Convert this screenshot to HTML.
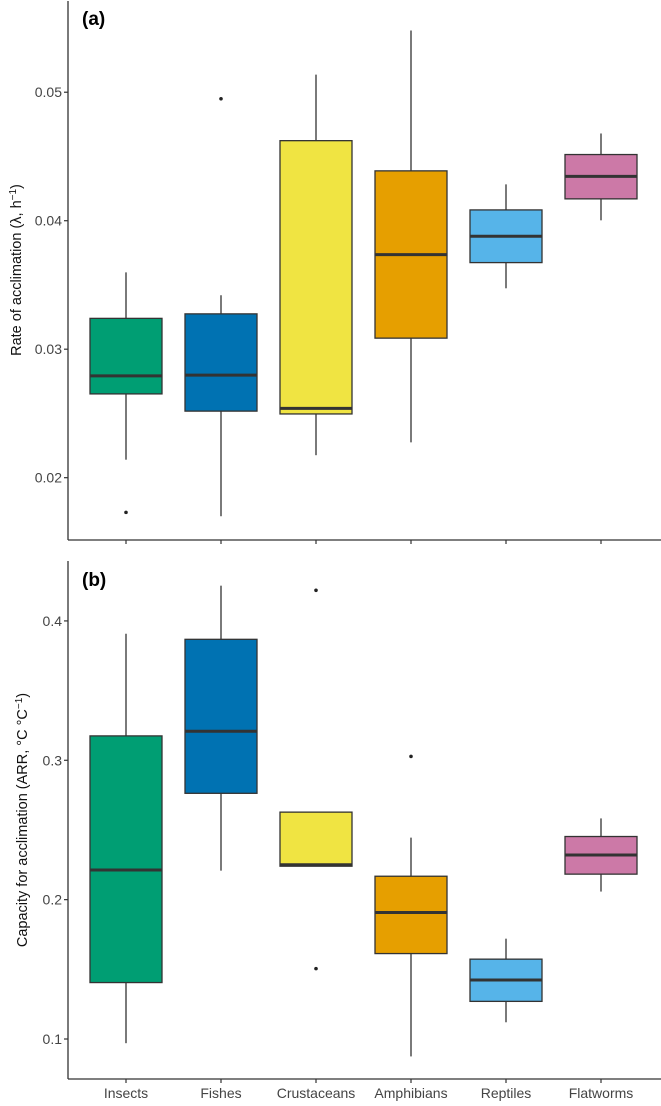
<!DOCTYPE html>
<html><head><meta charset="utf-8">
<style>
html,body{margin:0;padding:0;background:#fff;}
svg{display:block;font-family:"Liberation Sans",Arial,sans-serif;}
</style></head>
<body>
<svg id="chart" width="661" height="1106" viewBox="0 0 661 1106" xmlns="http://www.w3.org/2000/svg">
<text x="82" y="25" font-size="19" font-weight="bold" fill="#000">(a)</text>
<text x="82" y="586" font-size="19" font-weight="bold" fill="#000">(b)</text>
<text transform="translate(21,270) rotate(-90)" text-anchor="middle" font-size="14.5" fill="#111">Rate of acclimation (λ, h<tspan baseline-shift="super" font-size="10">−1</tspan>)</text>
<text transform="translate(27,820) rotate(-90)" text-anchor="middle" font-size="14.5" fill="#111">Capacity for acclimation (ARR, °C °C<tspan baseline-shift="super" font-size="10">−1</tspan>)</text>
<g id="pa"></g>
<g id="pb"></g>
</svg>
<script>
const categories = ["Insects","Fishes","Crustaceans","Amphibians","Reptiles","Flatworms"];
const colors = ["#009E73","#0072B2","#F0E442","#E69F00","#56B4E9","#CC79A7"];
// Panel a: rate of acclimation
const aLowWhisker = [0.0214,0.0170,0.02175,0.02275,0.03474,0.04003];
const aQ1 = [0.02652,0.02518,0.02496,0.03086,0.03674,0.04170];
const aMedian = [0.02792,0.02798,0.02539,0.03736,0.03879,0.04345];
const aQ3 = [0.03240,0.03275,0.04623,0.04388,0.04084,0.04515];
const aHighWhisker = [0.03598,0.03420,0.05137,0.05480,0.04283,0.04679];
const aOutliers = [[0.0173],[0.04949],[],[],[],[]];
const aTicks = [0.02,0.03,0.04,0.05];
const aTickLabels = ["0.02","0.03","0.04","0.05"];
// Panel b: capacity for acclimation
const bLowWhisker = [0.097,0.2208,0.224,0.0875,0.112,0.2058];
const bQ1 = [0.1405,0.2763,0.224,0.1613,0.127,0.2183];
const bMedian = [0.2213,0.3208,0.225,0.1908,0.1423,0.232];
const bQ3 = [0.3175,0.3868,0.2628,0.2168,0.1573,0.2453];
const bHighWhisker = [0.3908,0.4253,0.2628,0.2445,0.172,0.2583];
const bOutliers = [[],[],[0.422,0.1505],[0.3028],[],[]];
const bTicks = [0.1,0.2,0.3,0.4];
const bTickLabels = ["0.1","0.2","0.3","0.4"];

const NS="http://www.w3.org/2000/svg";
const xLeft=68, xRight=661;
function xScale(i){return 126+95*i;}
const boxHalf=36;
function mk(tag,attrs,parent){const e=document.createElementNS(NS,tag);for(const k in attrs)e.setAttribute(k,attrs[k]);parent.appendChild(e);return e;}

function drawPanel(g,pfx,top,bottom,vTop,vBot,lo,q1,med,q3,hi,outs,ticks,tickLabels,showX){
  const y=v=>top+(vTop-v)/(vTop-vBot)*(bottom-top);
  categories.forEach((c,i)=>{
    const x=xScale(i);
    const grp=mk('g',{},g);
    
    
    const w1=mk('line',{x1:x,x2:x,y1:y(hi[i]),y2:y(q3[i]),stroke:'#333','stroke-width':1.3},grp);
    
    
    const w2=mk('line',{x1:x,x2:x,y1:y(q1[i]),y2:y(lo[i]),stroke:'#333','stroke-width':1.3},grp);
    
    
    const r=mk('rect',{x:x-boxHalf,y:y(q3[i]),width:boxHalf*2,height:Math.max(0.5,y(q1[i])-y(q3[i])),fill:colors[i],stroke:'#333','stroke-width':1.3},grp);
    
    
    const m=mk('line',{x1:x-boxHalf,x2:x+boxHalf,y1:y(med[i]),y2:y(med[i]),stroke:'#333','stroke-width':3},grp);
    
    
    outs[i].forEach(o=>{
      const p=mk('circle',{cx:x,cy:y(o),r:1.8,fill:'#222'},grp);
      
      
    });
  });
  const ya=mk('line',{x1:xLeft,x2:xLeft,y1:top,y2:bottom,stroke:'#333','stroke-width':1.3},g);
  
  
  const xa=mk('line',{x1:xLeft,x2:xRight,y1:bottom,y2:bottom,stroke:'#333','stroke-width':1.3},g);
  
  
  ticks.forEach((t,k)=>{
    const tk=mk('line',{x1:xLeft-4,x2:xLeft,y1:y(t),y2:y(t),stroke:'#333','stroke-width':1.2},g);
    
    
    const tl=mk('text',{x:xLeft-6,y:y(t)+5,'text-anchor':'end','font-size':14,fill:'#444'},g);
    tl.textContent=tickLabels[k];
    
    
  });
  categories.forEach((c,i)=>{
    const tk=mk('line',{x1:xScale(i),x2:xScale(i),y1:bottom,y2:bottom+4,stroke:'#333','stroke-width':1.2},g);
    
    
    if(showX){
      const tl=mk('text',{x:xScale(i),y:bottom+19,'text-anchor':'middle','font-size':14,fill:'#444'},g);
      tl.textContent=c;
      
      
    }
  });
}
drawPanel(document.getElementById('pa'),'a',1,540,0.0571,0.01515,aLowWhisker,aQ1,aMedian,aQ3,aHighWhisker,aOutliers,aTicks,aTickLabels,false);
drawPanel(document.getElementById('pb'),'b',561,1079,0.443,0.0713,bLowWhisker,bQ1,bMedian,bQ3,bHighWhisker,bOutliers,bTicks,bTickLabels,true);
</script>
</body></html>
